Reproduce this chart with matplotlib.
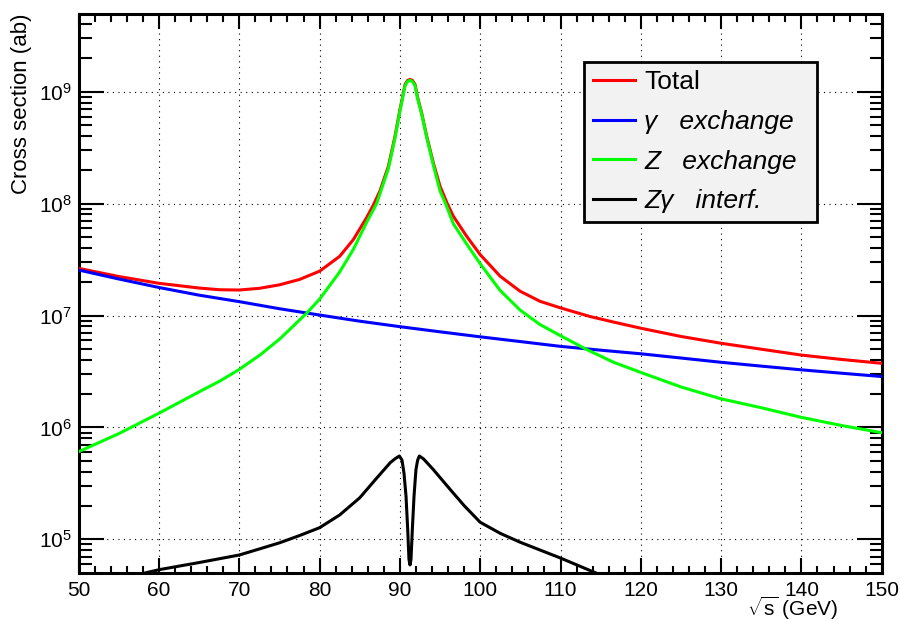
import math
import matplotlib
matplotlib.use("Agg")
import matplotlib.pyplot as plt
from matplotlib.ticker import LogLocator, FixedLocator, MultipleLocator, FuncFormatter, NullFormatter

plt.rcParams['font.family'] = ['Liberation Sans', 'DejaVu Sans']
plt.rcParams['mathtext.fontset'] = 'custom'
plt.rcParams['mathtext.rm'] = 'Liberation Sans'
plt.rcParams['mathtext.it'] = 'Liberation Sans:italic'

# ---- data ----
x_total = [50, 55, 60, 65, 67.5, 70, 72.5, 75, 77.5, 80, 82.5, 84.2, 85.86, 86.69, 87.52, 88.56,
           89.39, 90.0, 90.35, 90.64, 90.95, 91.26, 91.57, 91.89, 92.17, 92.71, 93.34, 94.17,
           95.0, 95.9, 96.66, 98.32, 100, 102.47, 104.96, 107.45, 110, 113.67, 116.58, 120,
           125, 130, 135, 140, 145, 150]
y_total = [2.64e7, 2.23e7, 1.94e7, 1.76e7, 1.70e7, 1.69e7, 1.75e7, 1.88e7, 2.1e7, 2.49e7, 3.38e7,
           4.77e7, 7.5e7, 9.7e7, 1.3e8, 2.15e8, 4.0e8, 6.9e8, 9.1e8, 1.16e9, 1.26e9, 1.29e9,
           1.26e9, 1.16e9, 9.1e8, 6.45e8, 4.0e8, 2.3e8, 1.43e8, 1.0e8, 7.7e7, 5.1e7, 3.5e7,
           2.25e7, 1.65e7, 1.34e7, 1.17e7, 9.8e6, 8.75e6, 7.7e6, 6.5e6, 5.65e6, 5.0e6, 4.43e6,
           4.05e6, 3.74e6]

x_gamma = [50, 55, 60, 65, 70, 75, 80, 85, 90, 95, 100, 105, 110, 115, 120, 125, 130, 135,
           140, 145, 150]
y_gamma = [2.55e7, 2.12e7, 1.78e7, 1.52e7, 1.33e7, 1.15e7, 1.01e7, 8.9e6, 7.95e6, 7.15e6, 6.45e6,
           5.85e6, 5.3e6, 4.9e6, 4.55e6, 4.17e6, 3.82e6, 3.53e6, 3.27e6, 3.05e6, 2.85e6]

x_z = [50, 55, 60, 65, 67.6, 70, 72.6, 75.07, 78.4, 80, 82.5, 84.2, 85.9, 87.1, 88.56, 89.39,
       90.0, 90.35, 90.64, 90.95, 91.26, 91.57, 91.89, 92.17, 92.71, 93.34, 94.17, 95.0, 95.74,
       96.66, 98.32, 100, 102.47, 104.96, 107.45, 110, 113.26, 116.58, 120, 125, 130, 135, 140,
       145, 150]
y_z = [6.07e5, 8.8e5, 1.34e6, 2.08e6, 2.6e6, 3.3e6, 4.45e6, 6.2e6, 1.05e7, 1.4e7, 2.45e7, 3.9e7,
       6.9e7, 1.0e8, 2.05e8, 3.85e8, 6.7e8, 8.9e8, 1.13e9, 1.23e9, 1.27e9, 1.23e9, 1.13e9, 8.9e8,
       6.3e8, 3.9e8, 2.2e8, 1.3e8, 9.8e7, 6.6e7, 4.35e7, 2.9e7, 1.68e7, 1.12e7, 8.3e6, 6.6e6,
       4.97e6, 3.83e6, 3.1e6, 2.3e6, 1.8e6, 1.5e6, 1.23e6, 1.04e6, 8.97e5]

x_int = [58, 60, 65, 70, 72.5, 75, 77.5, 80, 82.5, 85, 87, 88.8, 89.4, 89.93, 90.26, 90.51,
         90.76, 90.97, 91.13, 91.26, 91.38, 91.55, 91.76, 92.0, 92.21, 92.42, 92.92, 94.16,
         96.24, 98, 100, 102.5, 105, 110, 115]
y_int = [4.95e4, 5.35e4, 6.2e4, 7.24e4, 8.2e4, 9.3e4, 1.08e5, 1.27e5, 1.65e5, 2.35e5, 3.45e5,
         4.84e5, 5.25e5, 5.55e5, 5.1e5, 3.9e5, 2.44e5, 1.23e5, 6.6e4, 5.9e4, 6.6e4, 1.23e5,
         2.44e5, 4.2e5, 5.1e5, 5.55e5, 5.25e5, 4.2e5, 2.8e5, 2.0e5, 1.42e5, 1.13e5, 9.4e4,
         6.8e4, 4.8e4]

labels = ['Total', 'γ   exchange', 'Z   exchange', 'Zγ   interf.']
colors = ['#ff0000', '#0000ff', '#00ff00', '#000000']
x_ticks = [50, 60, 70, 80, 90, 100, 110, 120, 130, 140, 150]
y_ticks = [1e5, 1e6, 1e7, 1e8, 1e9]

W, H = 901, 619
fig = plt.figure(figsize=(W / 100, H / 100), dpi=100)
ax = fig.add_axes([78.7 / W, 1 - 572.7 / H, 803 / W, 558.7 / H])

lw = 2.2
series = [(x_total, y_total), (x_gamma, y_gamma), (x_z, y_z), (x_int, y_int)]
handles = []
for (xs, ys), c, lab in zip(series, colors, labels):
    h, = ax.plot(xs, ys, color=c, lw=lw, label=lab, solid_joinstyle='round', zorder=3)
    handles.append(h)

ax.set_yscale('log')
ax.set_xlim(50, 150)
ax.set_ylim(5.03e4, 4.95e9)

ax.xaxis.set_major_locator(FixedLocator(x_ticks))
ax.xaxis.set_minor_locator(MultipleLocator(2))
ax.yaxis.set_major_locator(FixedLocator(y_ticks))
ax.yaxis.set_minor_locator(LogLocator(base=10, subs=[2, 3, 4, 5, 6, 7, 8, 9], numticks=20))
ax.yaxis.set_minor_formatter(NullFormatter())
ax.yaxis.set_major_formatter(FuncFormatter(lambda v, p: r'$\mathregular{10^{%d}}$' % round(math.log10(v))))
ax.xaxis.set_major_formatter(FuncFormatter(lambda v, p: '%d' % v))

ax.tick_params(axis='both', which='both', direction='in', top=True, right=True, width=1.5,
               colors='black', labelsize=15)
ax.tick_params(axis='x', which='major', length=10.8, pad=6)
ax.tick_params(axis='x', which='minor', length=5.4)
ax.tick_params(axis='y', which='major', length=18, pad=5)
ax.tick_params(axis='y', which='minor', length=9)

for s in ax.spines.values():
    s.set_linewidth(2.2)
    s.set_color('black')

ax.grid(True, which='major', color='black', linestyle=(0, (1, 4)), linewidth=0.8, zorder=1)
ax.set_axisbelow(True)

fig.text(22 / W, 1 - 13 / H, 'Cross section (ab)', rotation=90, ha='center', va='top', fontsize=16)
fig.text(838.5 / W, 1 - 615.5 / H, r'$\mathregular{\sqrt{s}}$ (GeV)', ha='right', va='baseline', fontsize=15)

leg = ax.legend(handles=handles, labels=labels, loc='upper left', mode='expand',
                bbox_to_anchor=(584 / W, 1 - 219 / H, 233.3 / W, 157.3 / H),
                bbox_transform=fig.transFigure,
                fontsize=19, frameon=True, fancybox=False, handlelength=1.6, handletextpad=0.35,
                labelspacing=0.59, borderpad=0.33, borderaxespad=0)
fr = leg.get_frame()
fr.set_facecolor('#f2f2f2')
fr.set_edgecolor('black')
fr.set_linewidth(2.0)
fr.set_alpha(1)
for i, t in enumerate(leg.get_texts()):
    if i > 0:
        t.set_fontstyle('italic')
for l in leg.get_lines():
    l.set_linewidth(2.2)

fig.savefig('out.png', dpi=100)
